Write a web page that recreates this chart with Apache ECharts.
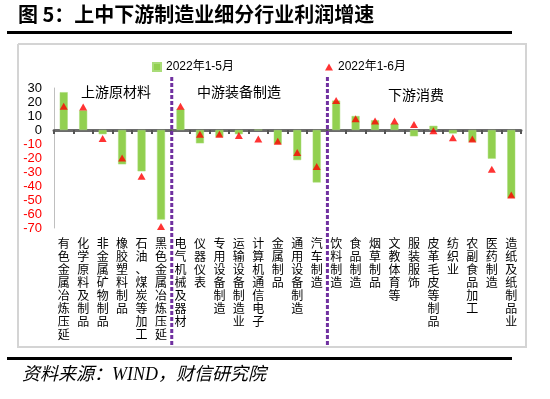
<!DOCTYPE html>
<html>
<head>
<meta charset="utf-8">
<script src="https://cdn.jsdelivr.net/npm/echarts@6/dist/echarts.min.js"></script>
<style>
  html, body { margin: 0; padding: 0; background: #fff; }
  #chart { width: 550px; height: 399px; }
</style>
</head>
<body>
<div id="chart"></div>
<script>
const categories = [
  '有色金属冶炼压延', '化学原料及制品', '非金属矿物制品', '橡胶塑料制品', '石油、煤炭等加工', '黑色金属冶炼压延',
  '电气机械及器材', '仪器仪表', '专用设备制造', '运输设备制造业', '计算机通信电子', '金属制品', '通用设备制造', '汽车制造',
  '饮料制造', '食品制造', '烟草制品', '文教体育等', '服装服饰', '皮革毛皮等制品', '纺织业', '农副食品加工', '医药制造', '造纸及纸制品业'
];
const profitJanMay = [27, 14, -3, -24.5, -29.5, -64, 15, -9.5, -5, -3, 0, -10, -21.5, -37.5, 21, 10, 7, 4.5, -4.5, 3, -2.5, -8.5, -20.5, -48.5];
const profitJanJun = [17, 16.5, -6, -20, -33, -69, 17, -3, -3, -4, -6.5, -8, -16, -26, 21, 8, 6.5, 6.5, 4, -0.5, -5.5, -6.5, -28, -46.5];
const seriesNames = ['2022年1-5月', '2022年1-6月'];
const sectionNames = ['上游原材料', '中游装备制造', '下游消费'];
const sectionEnds = [6, 14]; // category index where a new section starts

const cjk = '"Liberation Sans", "Noto Sans CJK SC", sans-serif';
const chart = echarts.init(document.getElementById('chart'), null, { renderer: 'canvas' });

const option = {
  animation: false,
  backgroundColor: '#fff',
  grid: { left: 54, right: 29, top: 88, bottom: 171, containLabel: false },
  legend: [
    {
      data: [{ name: seriesNames[0], icon: 'rect' }],
      left: 147, top: 56, itemWidth: 8, itemHeight: 8, itemGap: 3,
      textStyle: { fontSize: 12, fontFamily: cjk, color: '#000' }
    },
    {
      data: [{ name: seriesNames[1], icon: 'triangle' }],
      left: 320, top: 56, itemWidth: 8, itemHeight: 7, itemGap: 3,
      textStyle: { fontSize: 12, fontFamily: cjk, color: '#000' }
    }
  ],
  xAxis: [
    {
      type: 'category', data: categories, position: 'bottom',
      axisLine: { onZero: true, lineStyle: { color: '#6b6b6b', width: 3 } },
      axisTick: { show: true, length: 4, interval: 0, lineStyle: { color: '#555', width: 2 } },
      axisLabel: { show: false }
    },
    {
      type: 'category', data: categories, position: 'bottom',
      axisLine: { show: false, onZero: false }, axisTick: { show: false },
      axisLabel: {
        interval: 0, margin: 10, fontSize: 12, lineHeight: 13, color: '#000', fontFamily: cjk,
        verticalAlign: 'top',
        formatter: v => v.split('').join('\n')
      }
    }
  ],
  yAxis: {
    type: 'value', min: -70, max: 30, interval: 10,
    splitLine: { show: false },
    axisLine: { show: true, lineStyle: { color: '#bfbfbf', width: 1 } },
    axisTick: { show: false },
    axisLabel: {
      fontSize: 13, margin: 12, fontFamily: cjk,
      color: v => (Number(v) < 0 ? '#ff0000' : '#000')
    }
  },
  series: [
    {
      name: seriesNames[0], type: 'bar', xAxisIndex: 0, data: profitJanMay,
      barWidth: 8, itemStyle: { color: '#92d050', borderColor: '#a9dc78', borderWidth: 0.5 }
    },
    {
      name: seriesNames[1], type: 'scatter', xAxisIndex: 0, data: profitJanJun,
      symbol: 'triangle', symbolSize: [8, 7], itemStyle: { color: '#ff0000' }, z: 5
    }
  ],
  graphic: [
    { id: 'title', type: 'text', left: 18, top: 4,
      style: { text: '图 5：上中下游制造业细分行业利润增速', fontSize: 20, fontWeight: 'bold', fill: '#000', fontFamily: '"Noto Sans CJK SC", sans-serif' } },
    { id: 'topRule', type: 'rect', shape: { x: 7, y: 31, width: 505, height: 3 }, style: { fill: '#000' } },
    { id: 'frame', type: 'polyline', silent: true,
      shape: { points: [[18, 44], [526, 44], [526, 347], [18, 347], [18, 44]] },
      style: { fill: null, stroke: '#d4d4d4', lineWidth: 2 } },
    { id: 'bottomRule', type: 'rect', shape: { x: 7, y: 357, width: 505, height: 3 }, style: { fill: '#000' } },
    { id: 'source', type: 'text', left: 22, top: 366,
      style: { text: '资料来源：WIND，财信研究院', fontSize: 18, fontStyle: 'italic', fill: '#000', fontFamily: '"Liberation Serif", "Noto Sans CJK SC", serif' } }
  ]
};
chart.setOption(option);

// section dividers and section titles, placed from the category axis
const px = i => chart.convertToPixel({ xAxisIndex: 0 }, i);
const step = px(1) - px(0);
const bounds = sectionEnds.map(i => px(i) - step / 2);
const sectionX = [116, 239, 416];
const sectionY = [92, 92, 95];
const extra = [];
bounds.forEach((x, k) => {
  extra.push({ id: 'div' + k, type: 'line', z: 10,
    shape: { x1: x + 1, y1: 77, x2: x + 1, y2: 347 },
    style: { stroke: '#7030a0', lineWidth: 3, lineDash: [4, 2] } });
});
sectionNames.forEach((t, k) => {
  extra.push({ id: 'sec' + k, type: 'text', x: sectionX[k], y: sectionY[k],
    style: { text: t, fontSize: 14, fill: '#000', align: 'center', verticalAlign: 'middle', fontFamily: '"Noto Sans CJK SC", sans-serif' } });
});
chart.setOption({ graphic: extra });
</script>
</body>
</html>
